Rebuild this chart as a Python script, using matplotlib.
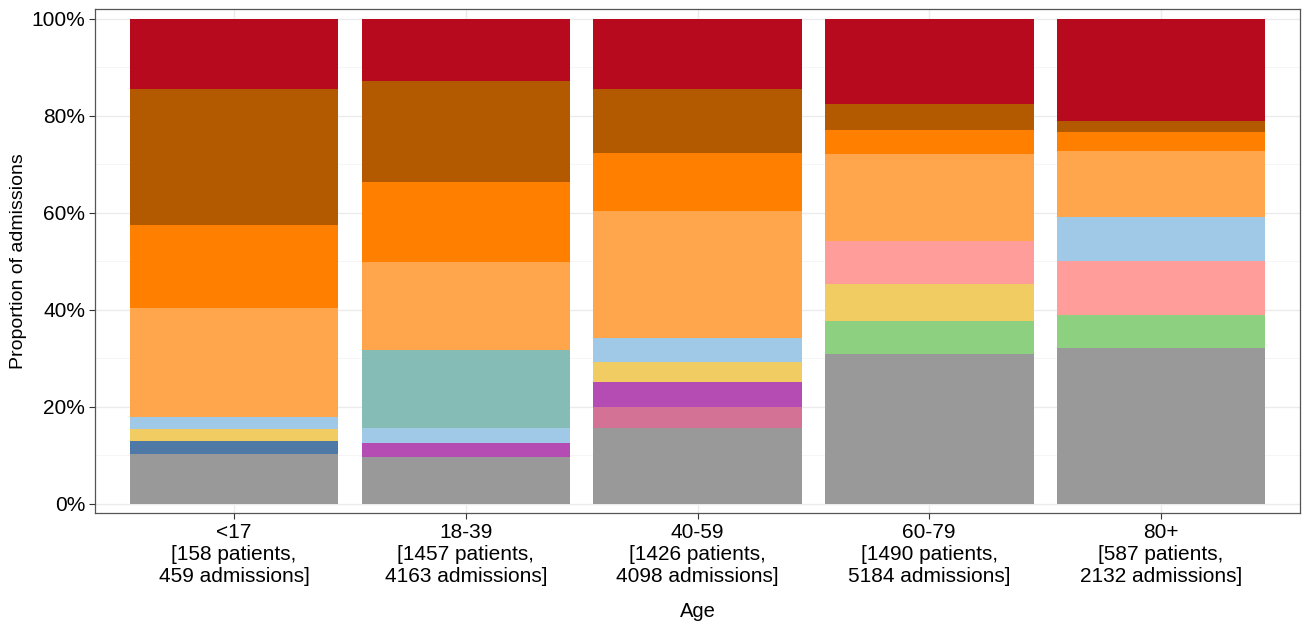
import matplotlib
matplotlib.use("Agg")
import matplotlib.pyplot as plt
from matplotlib.ticker import MultipleLocator, FuncFormatter

# Age groups and their x labels
ages = ["<17", "18-39", "40-59", "60-79", "80+"]
patients = [158, 1457, 1426, 1490, 587]
admissions = [459, 4163, 4098, 5184, 2132]

# Colours of the categories
colours = {
    "grey": "#999999",
    "blue": "#4E79A7",
    "purple": "#B44CB4",
    "rose": "#D37295",
    "teal": "#86BCB6",
    "green": "#8DD07F",
    "yellow": "#F0CC62",
    "salmon": "#FF9D9A",
    "lightblue": "#9FC9E7",
    "lightorange": "#FFA54C",
    "orange": "#FF7F00",
    "brown": "#B35900",
    "red": "#B80A1F",
}

# Stack for each age group, bottom to top (percent of admissions)
stack_lt17 = [("grey", 10.4), ("blue", 2.6), ("yellow", 2.5), ("lightblue", 2.5),
              ("lightorange", 22.5), ("orange", 17.0), ("brown", 28.1), ("red", 14.4)]
stack_18_39 = [("grey", 9.75), ("purple", 2.8), ("lightblue", 3.1), ("teal", 16.1),
               ("lightorange", 18.15), ("orange", 16.5), ("brown", 20.8), ("red", 12.8)]
stack_40_59 = [("grey", 15.7), ("rose", 4.3), ("purple", 5.2), ("yellow", 4.1),
               ("lightblue", 4.9), ("lightorange", 26.2), ("orange", 12.0),
               ("brown", 13.2), ("red", 14.4)]
stack_60_79 = [("grey", 30.9), ("green", 6.8), ("yellow", 7.7), ("salmon", 8.8),
               ("lightorange", 18.0), ("orange", 4.9), ("brown", 5.4), ("red", 17.5)]
stack_80 = [("grey", 32.2), ("green", 6.8), ("salmon", 11.1), ("lightblue", 9.1),
            ("lightorange", 13.6), ("orange", 3.9), ("brown", 2.3), ("red", 21.0)]

stacks = [stack_lt17, stack_18_39, stack_40_59, stack_60_79, stack_80]

plt.rcParams["font.family"] = ["Liberation Sans", "DejaVu Sans"]

fig = plt.figure(figsize=(13.11, 6.25), dpi=100)
ax = fig.add_axes([0.0725, 0.1792, 0.9191, 0.8064])

# Stacked bars, one segment at a time
for i, stack in enumerate(stacks):
    bottom = 0
    for name, val in stack:
        ax.bar(i, val, bottom=bottom, width=0.9, color=colours[name], linewidth=0, zorder=3)
        bottom += val

labels = [f"{a}\n[{p} patients,\n{n} admissions]" for a, p, n in zip(ages, patients, admissions)]
ax.set_xticks(range(len(ages)))
ax.set_xticklabels(labels, fontsize=15, linespacing=1.2)
ax.set_xlim(-0.6, 4.6)
ax.set_ylim(-1.86, 102.06)

ax.yaxis.set_major_locator(MultipleLocator(20))
ax.yaxis.set_minor_locator(MultipleLocator(10))
ax.yaxis.set_major_formatter(FuncFormatter(lambda v, p: f"{v:.0f}%"))
ax.tick_params(axis="y", labelsize=15, length=4, color="#333333", pad=3)
ax.tick_params(axis="x", length=4, color="#333333", pad=3)
ax.tick_params(axis="y", which="minor", length=0)

ax.grid(True, which="major", color="#EBEBEB", linewidth=1.0, zorder=0)
ax.grid(True, which="minor", axis="y", color="#F4F4F4", linewidth=0.6, zorder=0)
ax.set_axisbelow(True)

for s in ax.spines.values():
    s.set_color("#555555")
    s.set_linewidth(0.9)

ax.set_xlabel("Age", fontsize=14.5, labelpad=12)
ax.set_ylabel("Proportion of admissions", fontsize=14, labelpad=3)

fig.savefig("out.png", dpi=100)
